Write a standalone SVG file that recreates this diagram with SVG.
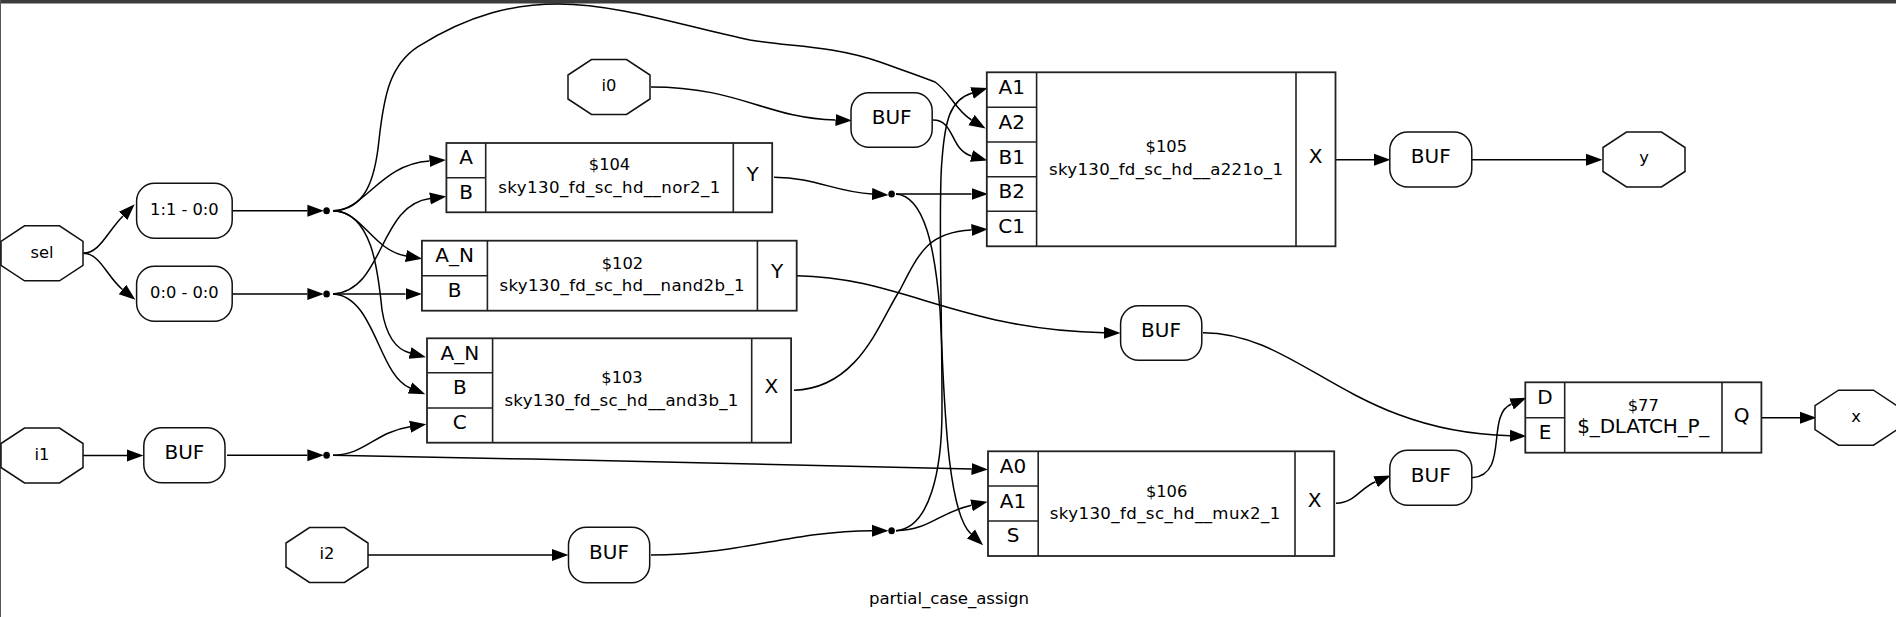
<svg xmlns="http://www.w3.org/2000/svg" width="1896" height="617" viewBox="0 0 1896 617">
<style>
text{font-family:"DejaVu Sans",sans-serif;text-anchor:middle;fill:#000}
.s{font-size:16.3px}
.m{font-size:16.6px}
.b{font-size:20px}
.n{fill:#fff;stroke:#111;stroke-width:1.5}
.r{fill:#fff;stroke:#222;stroke-width:1.8}
.d{stroke:#222;stroke-width:1.6;fill:none}
#edges path{fill:none;stroke:#000;stroke-width:1.5}
.a{marker-end:url(#arr)}
.j{fill:#000}
</style>
<defs>
<marker id="arr" markerUnits="userSpaceOnUse" markerWidth="17" markerHeight="13" refX="0" refY="6.5" orient="auto" viewBox="0 0 17 13"><path d="M0,0.5L16.5,6.5L0,12.5z" fill="#000"/></marker>
<polygon id="oct" points="-17.5,-27.5 17.5,-27.5 41,-12 41,12 17.5,27.5 -17.5,27.5 -41,12 -41,-12" class="n"/>
</defs>
<rect x="0" y="0" width="1896" height="617" fill="#fff"/>
<rect x="0" y="0" width="1896" height="3.5" fill="#3c3c3c"/>
<rect x="0" y="0" width="1" height="617" fill="#555"/>
<g id="edges">
<path class="a" d="M83,253.3C100,253 107,232 123,216"/>
<path class="a" d="M83,253.3C100,253 107,277 122.5,289.5"/>
<path class="a" d="M232,210.7L307.4,210.7"/>
<path class="a" d="M232,294L307.4,294"/>
<path class="a" d="M333,210.7C365,210.7 380,164 429.5,161"/>
<path class="a" d="M333,210.7C365,210 375,180 379,140C384,95 390,65 418,46.7C470,14 515,4 558,4C620,4 690,28 750,40C790,47 830,45 880,62C905,71 920,76 935,82C950,92 955,110 971.5,120"/>
<path class="a" d="M333,210.7C362,210.7 372,250 406,256"/>
<path class="a" d="M333,210.7C372,212 378,270 382,310C386,335 395,349 410,353"/>
<path class="a" d="M333,294C385,290 378,205 430,198.5"/>
<path class="a" d="M333,294L405.5,294"/>
<path class="a" d="M333,294C375,296 378,375 410,388"/>
<path class="a" d="M83,455.5L127,455.5"/>
<path class="a" d="M227,455.3L307.4,455.3"/>
<path class="a" d="M333,455.3C365,455 375,432 410,426.7"/>
<path class="a" d="M333,455.3C550,459 800,465 971.5,469"/>
<path class="a" d="M368,555L552,555"/>
<path class="a" d="M651,87C740,87 765,118 835.5,120"/>
<path class="a" d="M933,120C955,120 950,150 971.5,156"/>
<path class="a" d="M774,177.3C815,177.3 835,192 872,194"/>
<path class="a" d="M896,194L971.5,194"/>
<path class="a" d="M896,194C925,196 935,250 940,310C944,380 945,510 971,534"/>
<path class="a" d="M896,530.7C930,528 942,470 942,410C942,300 938,200 942,160C945,120 950,100 972,93"/>
<path class="a" d="M896,530.7C930,530 940,512 971.5,505.3"/>
<path class="a" d="M651,555C740,555 790,531 872,530.7"/>
<path class="a" d="M794,390.3C860,388 880,320 900,290C920,250 930,232 971.5,230"/>
<path class="a" d="M797,275.7C900,277 960,330 1104,332.7"/>
<path class="a" d="M1203,332.7C1300,333 1350,432 1510,435.7"/>
<path class="a" d="M1335.5,159.7L1374,159.7"/>
<path class="a" d="M1472,159.7L1586,159.7"/>
<path class="a" d="M1336,503.3C1355,503 1360,488 1375.6,481.7"/>
<path class="a" d="M1472,477.7C1510,475 1485,415 1511.5,404"/>
<path class="a" d="M1761.4,417.7L1800,417.7"/>
</g>
<g id="j1"><ellipse class="j" cx="326.6" cy="210.7" rx="3.3" ry="3.5"/></g>
<g id="j2"><ellipse class="j" cx="326.6" cy="294" rx="3.3" ry="3.5"/></g>
<g id="j3"><ellipse class="j" cx="326.6" cy="455.3" rx="3.3" ry="3.5"/></g>
<g id="j4"><ellipse class="j" cx="891.6" cy="194" rx="3.3" ry="3.5"/></g>
<g id="j5"><ellipse class="j" cx="891.6" cy="530.7" rx="3.3" ry="3.5"/></g>
<g id="sel"><use href="#oct" x="42" y="253.3"/><text class="s" x="42" y="257.5">sel</text></g>
<g id="i0"><use href="#oct" x="609" y="87"/><text class="s" x="609" y="91">i0</text></g>
<g id="i1"><use href="#oct" x="42" y="455.5"/><text class="s" x="42" y="459.5">i1</text></g>
<g id="i2"><use href="#oct" x="327" y="555"/><text class="s" x="327" y="559">i2</text></g>
<g id="y"><use href="#oct" x="1644" y="159.5"/><text class="s" x="1644" y="162.5">y</text></g>
<g id="x"><use href="#oct" x="1856" y="417.7"/><text class="s" x="1856" y="422.3">x</text></g>
<g id="sl1"><rect class="n" x="136.6" y="183.3" width="95.6" height="55" rx="18"/><text class="s" x="184.4" y="215">1:1 - 0:0</text></g>
<g id="sl0"><rect class="n" x="136.6" y="266.3" width="95.6" height="55" rx="18"/><text class="s" x="184.4" y="297.8">0:0 - 0:0</text></g>
<g id="buf_i1"><rect class="n" x="143.8" y="427.7" width="81.2" height="55" rx="18"/><text class="b" x="184.4" y="459">BUF</text></g>
<g id="buf_i0"><rect class="n" x="851" y="92.7" width="81.2" height="54.6" rx="18"/><text class="b" x="891.6" y="124">BUF</text></g>
<g id="buf_i2"><rect class="n" x="568.5" y="527.3" width="81.2" height="55.4" rx="18"/><text class="b" x="609" y="559">BUF</text></g>
<g id="buf_nand"><rect class="n" x="1120.6" y="305.7" width="81.2" height="54.6" rx="18"/><text class="b" x="1161" y="336.7">BUF</text></g>
<g id="buf_a221o"><rect class="n" x="1389.8" y="132" width="82" height="55" rx="18"/><text class="b" x="1430.8" y="162.7">BUF</text></g>
<g id="buf_mux"><rect class="n" x="1389.8" y="450.3" width="82" height="55" rx="18"/><text class="b" x="1430.8" y="481.7">BUF</text></g>
<g id="c104"><rect class="r" x="446.4" y="143" width="325.8" height="69.3"/>
<path class="d" d="M485.7,143V212.3M733.3,143V212.3M446.4,177.7H485.7"/>
<text class="b" x="466" y="164">A</text><text class="b" x="466" y="199">B</text>
<text class="s" x="609.5" y="170">$104</text><text class="m" x="609.3" y="193.3" textLength="222">sky130_fd_sc_hd__nor2_1</text>
<text class="b" x="752.7" y="180.7">Y</text></g>
<g id="c102"><rect class="r" x="421.9" y="240.7" width="374.8" height="70"/>
<path class="d" d="M487.4,240.7V310.7M757.4,240.7V310.7M421.9,275.7H487.4"/>
<text class="b" x="454.6" y="262.3">A_N</text><text class="b" x="454.6" y="296.5">B</text>
<text class="s" x="622.4" y="268.7">$102</text><text class="m" x="622" y="291.3" textLength="245">sky130_fd_sc_hd__nand2b_1</text>
<text class="b" x="777" y="278.3">Y</text></g>
<g id="c103"><rect class="r" x="427" y="338.3" width="364.1" height="104.4"/>
<path class="d" d="M492.6,338.3V442.7M751.7,338.3V442.7M427,372.7H492.6M427,408H492.6"/>
<text class="b" x="459.8" y="360">A_N</text><text class="b" x="459.8" y="393.5">B</text><text class="b" x="459.8" y="429">C</text>
<text class="s" x="622" y="383.3">$103</text><text class="m" x="621.4" y="406" textLength="234">sky130_fd_sc_hd__and3b_1</text>
<text class="b" x="771.4" y="393.3">X</text></g>
<g id="c105"><rect class="r" x="986.8" y="72.3" width="348.7" height="174"/>
<path class="d" d="M1036.6,72.3V246.3M1296,72.3V246.3M986.8,107.3H1036.6M986.8,142H1036.6M986.8,176.7H1036.6M986.8,211.3H1036.6"/>
<text class="b" x="1011.7" y="94.3">A1</text><text class="b" x="1011.7" y="129.3">A2</text><text class="b" x="1011.7" y="164">B1</text><text class="b" x="1011.7" y="198.3">B2</text><text class="b" x="1011.7" y="233.3">C1</text>
<text class="s" x="1166.3" y="152">$105</text><text class="m" x="1166" y="175" textLength="234">sky130_fd_sc_hd__a221o_1</text>
<text class="b" x="1315.7" y="162.7">X</text></g>
<g id="c106"><rect class="r" x="988" y="451.3" width="346.2" height="104.7"/>
<path class="d" d="M1038.2,451.3V556M1295,451.3V556M988,486H1038.2M988,521H1038.2"/>
<text class="b" x="1013" y="473.3">A0</text><text class="b" x="1013" y="508.3">A1</text><text class="b" x="1013" y="542">S</text>
<text class="s" x="1166.6" y="497.3">$106</text><text class="m" x="1165" y="519" textLength="230.5">sky130_fd_sc_hd__mux2_1</text>
<text class="b" x="1314.6" y="506.7">X</text></g>
<g id="c77"><rect class="r" x="1525.3" y="382.3" width="236.1" height="70.4"/>
<path class="d" d="M1564.7,382.3V452.7M1722,382.3V452.7M1525.3,417.7H1564.7"/>
<text class="b" x="1545" y="404">D</text><text class="b" x="1545" y="439">E</text>
<text class="s" x="1643.3" y="411">$77</text><text class="b" x="1643.3" y="433.3" textLength="132">$_DLATCH_P_</text>
<text class="b" x="1741.7" y="421.7">Q</text></g>
<text class="m" x="949" y="604" textLength="160">partial_case_assign</text>
</svg>
